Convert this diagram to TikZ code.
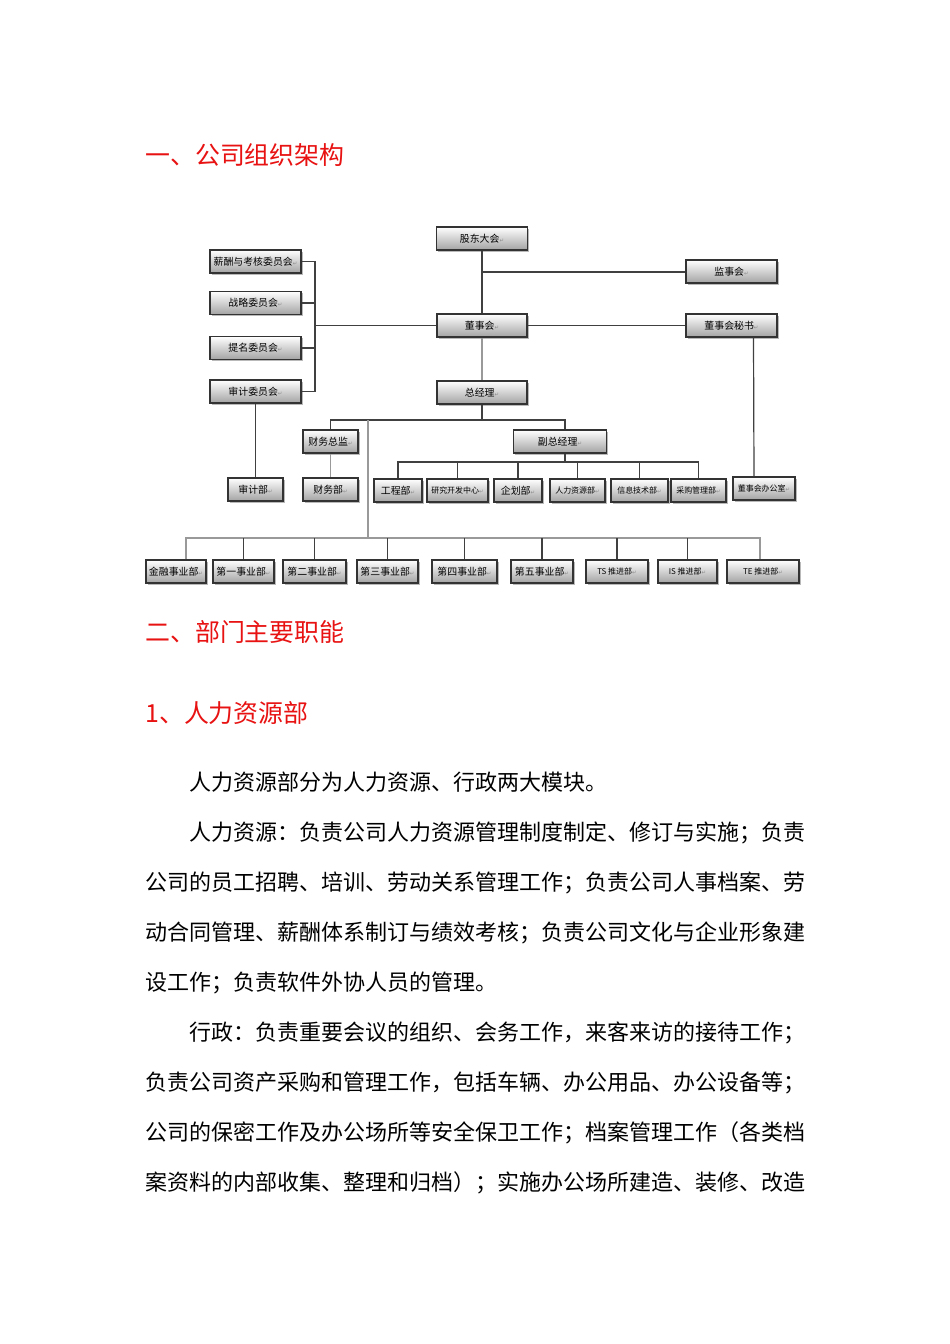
\documentclass[tikz,border=0pt]{standalone}
\usepackage{fontspec}
\setmainfont{Noto Sans CJK SC}
\newfontfamily\arrowfont{DejaVu Sans}
\usepackage{xcolor}
\usetikzlibrary{positioning,shadows}
\definecolor{titlered}{RGB}{232,18,18}
\newcommand\pxu{0.6263pt}
\newcommand\ret{{\arrowfont\color{black!45}\fontsize{3.4pt}{4pt}\selectfont ↵}}

\tikzset{
  orgbox/.style={draw=black!80, line width=0.65pt, top color=white, bottom color=black!36,
    drop shadow={shadow xshift=1pt, shadow yshift=-1pt, opacity=0.55},
    minimum height=23*\pxu, inner sep=0pt, font=\fontsize{6.2pt}{7pt}\selectfont},
  smallbox/.style={orgbox, font=\fontsize{5pt}{6pt}\selectfont},
  link/.style={draw=black!75, line width=0.75pt},
  faint/.style={draw=black!40, line width=0.75pt},
  head/.style={anchor=base west, inner sep=0pt, text=titlered, font=\fontsize{15.6pt}{18pt}\selectfont},
  body/.style={anchor=base west, inner sep=0pt, font=\fontsize{13.78pt}{16pt}\selectfont}
}

\begin{document}
\begin{tikzpicture}[x=0.6263pt, y=-0.6263pt]
  \fill[white] (0,0) rectangle (950,1344);
  \useasboundingbox (0,0) rectangle (950,1344);

  % headings
  \node[head] (t1) at (145,164.5) {一、公司组织架构};

  % board level
  \node[orgbox, minimum width=91*\pxu] (gddh) at (482,238.5) {股东大会\ret};
  \node[orgbox, minimum width=91*\pxu] (jsh) at (731.5,271.5) {监事会\ret};
  \node[orgbox, minimum width=90*\pxu] (dsh) at (482,325.5) {董事会\ret};
  \node[orgbox, minimum width=91*\pxu] (dshms) at (731.5,325.5) {董事会秘书\ret};
  \node[orgbox, minimum width=90*\pxu] (zjl) at (482,392.5) {总经理\ret};

  % committees
  \node[orgbox, minimum width=91*\pxu] (xcwh) at (255.5,261.5) {薪酬与考核委员会\ret};
  \node[orgbox, minimum width=91*\pxu] (zlwh) at (255.5,303) {战略委员会\ret};
  \node[orgbox, minimum width=91*\pxu] (tmwh) at (255.5,348) {提名委员会\ret};
  \node[orgbox, minimum width=91*\pxu] (sjwh) at (255.5,391.5) {审计委员会\ret};

  % managers
  \node[orgbox, minimum width=55*\pxu] (cwzj) at (330.5,441.5) {财务总监\ret};
  \node[orgbox, minimum width=93*\pxu] (fzjl) at (560,441.5) {副总经理\ret};

  % departments
  \node[orgbox, minimum width=55*\pxu] (sjb) at (255.5,489.5) {审计部\ret};
  \node[orgbox, minimum width=55*\pxu] (cwb) at (330.5,489.5) {财务部\ret};
  \node[orgbox, minimum width=48*\pxu] (gcb) at (398,490.5) {工程部\ret};
  \node[smallbox, minimum width=61*\pxu] (yfzx) at (457.5,490.5) {研究开发中心\ret};
  \node[orgbox, minimum width=48*\pxu] (qhb) at (518,490.5) {企划部\ret};
  \node[smallbox, minimum width=55*\pxu] (rlzyb) at (577.5,490.5) {人力资源部\ret};
  \node[smallbox, minimum width=57*\pxu] (xxjsb) at (639.5,490.5) {信息技术部\ret};
  \node[smallbox, minimum width=55*\pxu] (cgglb) at (698.5,490.5) {采购管理部\ret};
  \node[smallbox, minimum width=62*\pxu] (dshbgs) at (764,488.5) {董事会办公室\ret};

  % business units
  \node[orgbox, minimum width=60*\pxu] (jrsyb) at (176,571.5) {金融事业部\ret};
  \node[orgbox, minimum width=61*\pxu] (sya) at (243.5,571.5) {第一事业部\ret};
  \node[orgbox, minimum width=63*\pxu] (syb) at (314.5,571.5) {第二事业部\ret};
  \node[orgbox, minimum width=61*\pxu] (syc) at (387.5,571.5) {第三事业部\ret};
  \node[orgbox, minimum width=65*\pxu] (syd) at (464.5,571.5) {第四事业部\ret};
  \node[orgbox, minimum width=62*\pxu] (sye) at (542,571.5) {第五事业部\ret};
  \node[smallbox, minimum width=62*\pxu] (tstj) at (617,571.5) {TS 推进部\ret};
  \node[smallbox, minimum width=59*\pxu] (istj) at (687.5,571.5) {IS 推进部\ret};
  \node[smallbox, minimum width=72*\pxu] (tetj) at (763,571.5) {TE 推进部\ret};

  % connectors
  \coordinate (jsfork) at (482,272);
  \coordinate (wfork) at (315,325.5);
  \coordinate (busa) at (482,420);
  \coordinate (busx) at (368,420);
  \coordinate (busb) at (368,538);
  \coordinate (busc) at (565,462);

  \draw[link] (gddh) -- (dsh);
  \draw[link] (jsfork) -- (jsfork -| jsh.west);
  \draw[link] (dsh) -- (dshms);
  \draw[link] (dsh.west) -- (wfork);
  \draw[link] (xcwh.east) -- (xcwh.east -| wfork) -- (sjwh.east -| wfork) -- (sjwh.east);
  \foreach \n in {zlwh,tmwh}
    \draw[link] (\n.east) -- (\n.east -| wfork);
  \draw[faint] (dsh) -- (zjl);
  \draw[link] (zjl) -- (busa);
  \draw[link] (cwzj.north) |- (busa) -| ([xshift=5*\pxu]fzjl.north);
  \draw[link] (sjwh) -- (sjb);
  \draw[faint] (cwzj) -- (cwb);
  \draw[link] ([xshift=22*\pxu]dshms.south) -- ([xshift=-10*\pxu]dshbgs.north);

  \draw[link] ([xshift=5*\pxu]fzjl.south) -- (busc);
  \draw[link] (gcb.north) |- (busc) -| (cgglb.north);
  \foreach \n in {yfzx,qhb,rlzyb,xxjsb}
    \draw[link] (\n.north) -- (\n.north |- busc);

  \draw[faint] (busx) -- (busb);
  \draw[faint] ([xshift=10*\pxu]jrsyb.north) |- (busb) -| ([xshift=-3*\pxu]tetj.north);
  \foreach \n in {sya,syb,syc,syd,sye,tstj,istj}
    \draw[link] (\n.north) -- (\n.north |- busb);

  % text below
  \node[head] (t2) at (145,641.5) {二、部门主要职能};
  \node[head] (t3) at (145,722) {1、人力资源部};

  \node[body] (p1) at (189,790) {人力资源部分为人力资源、行政两大模块。};
  \node[body] (p2) at (189,840) {人力资源：负责公司人力资源管理制度制定、修订与实施；负责};
  \node[body] (p3) at (145,890) {公司的员工招聘、培训、劳动关系管理工作；负责公司人事档案、劳};
  \node[body] (p4) at (145,940) {动合同管理、薪酬体系制订与绩效考核；负责公司文化与企业形象建};
  \node[body] (p5) at (145,990) {设工作；负责软件外协人员的管理。};
  \node[body] (p6) at (189,1040) {行政：负责重要会议的组织、会务工作，来客来访的接待工作；};
  \node[body] (p7) at (145,1090) {负责公司资产采购和管理工作，包括车辆、办公用品、办公设备等；};
  \node[body] (p8) at (145,1140) {公司的保密工作及办公场所等安全保卫工作；档案管理工作（各类档};
  \node[body] (p9) at (145,1190) {案资料的内部收集、整理和归档）；实施办公场所建造、装修、改造};
\end{tikzpicture}
\end{document}
